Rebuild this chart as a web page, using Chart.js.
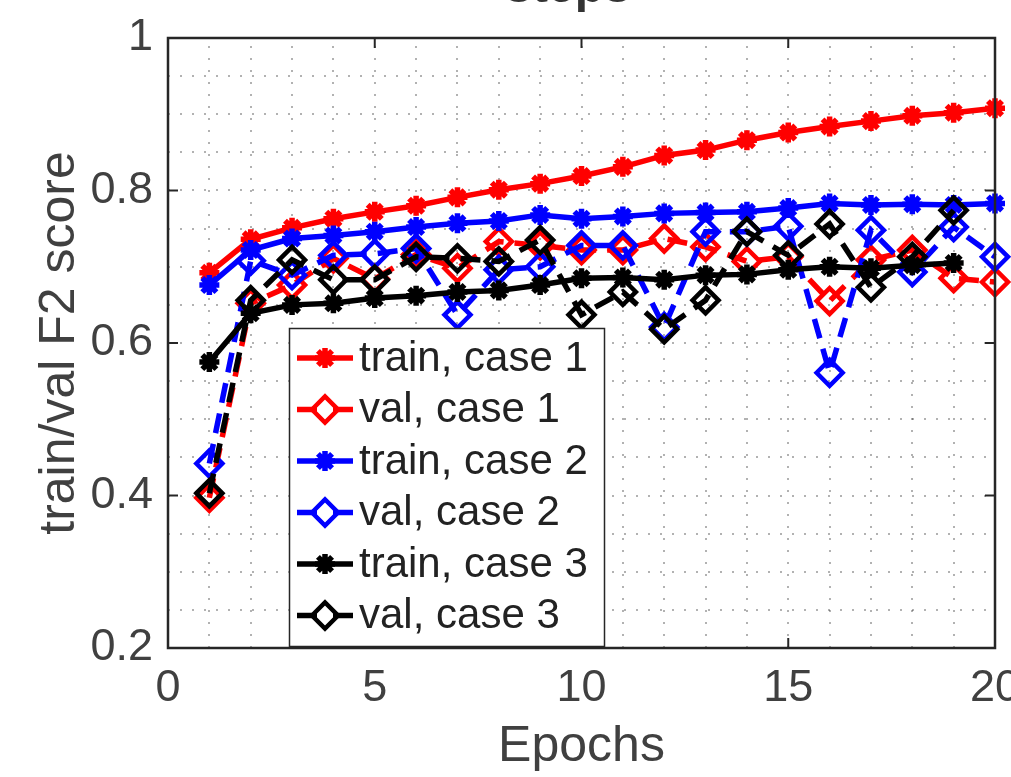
<!DOCTYPE html>
<html>
<head>
<meta charset="utf-8">
<script src="https://cdn.jsdelivr.net/npm/chart.js@4/dist/chart.umd.min.js"></script>
<style>
  html, body { margin: 0; padding: 0; background: #ffffff; overflow: hidden; width: 1011px; height: 777px; }
  #wrap { position: absolute; left: 0; top: -40px; width: 1040px; height: 817px; }
</style>
</head>
<body>
<div id="wrap"><canvas id="c" width="1040" height="817"></canvas></div>
<script>
// ---------- data ----------
const epochs = [1,2,3,4,5,6,7,8,9,10,11,12,13,14,15,16,17,18,19,20];
const train1 = [0.692,0.736,0.751,0.763,0.772,0.780,0.791,0.801,0.809,0.819,0.831,0.846,0.853,0.866,0.876,0.884,0.891,0.898,0.902,0.908];
const val1   = [0.397,0.652,0.676,0.711,0.684,0.716,0.698,0.733,0.728,0.722,0.722,0.737,0.726,0.707,0.713,0.655,0.709,0.722,0.685,0.680];
const train2 = [0.676,0.722,0.737,0.741,0.746,0.752,0.757,0.760,0.768,0.763,0.766,0.770,0.771,0.772,0.777,0.783,0.781,0.782,0.781,0.783];
const val2   = [0.442,0.708,0.689,0.715,0.717,0.724,0.637,0.696,0.700,0.728,0.728,0.621,0.746,0.746,0.753,0.561,0.748,0.693,0.752,0.713];
const train3 = [0.575,0.639,0.650,0.652,0.659,0.662,0.667,0.669,0.676,0.685,0.686,0.683,0.689,0.690,0.696,0.700,0.698,0.702,0.705];
const val3   = [0.403,0.656,0.709,0.683,0.683,0.713,0.711,0.707,0.735,0.637,0.667,0.618,0.656,0.746,0.715,0.756,0.673,0.713,0.774];
const seriesLabels = ['train, case 1','val, case 1','train, case 2','val, case 2','train, case 3','val, case 3'];
const xTicks = [0,5,10,15,20];
const yTicks = [0.2,0.4,0.6,0.8,1];
const titleText = 'steps';
const xTitle = 'Epochs';
const yTitle = 'train/val F2 score';

// ---------- styling ----------
const FONT = '"Liberation Sans", Arial, Helvetica, sans-serif';
const AX = '#262626';
const TXT = '#404040';
const RED = '#ff0000', BLUE = '#0000ff', BLACK = '#000000';
const DASH = [20, 11];
const LW = 5.5;

function pts(vals) { return vals.map((v, i) => ({ x: epochs[i], y: v })); }

function trainDs(label, vals, color, order) {
  return {
    label, data: pts(vals), borderColor: color, backgroundColor: color,
    borderWidth: LW, borderDash: [], pointStyle: 'star', pointRadius: 10,
    pointBorderWidth: 5.5, pointBorderColor: color, pointBackgroundColor: color,
    tension: 0, clip: false, order
  };
}
function valDs(label, vals, color, order) {
  return {
    label, data: pts(vals), borderColor: color, backgroundColor: 'rgba(0,0,0,0)',
    borderWidth: LW, borderDash: DASH, pointStyle: 'rectRot', pointRadius: 13,
    pointBorderWidth: 4.5, pointBorderColor: color, pointBackgroundColor: 'rgba(0,0,0,0)',
    tension: 0, clip: false, order
  };
}

const datasets = [
  trainDs(seriesLabels[0], train1, RED, 5),
  valDs(seriesLabels[1], val1, RED, 4),
  trainDs(seriesLabels[2], train2, BLUE, 3),
  valDs(seriesLabels[3], val2, BLUE, 2),
  trainDs(seriesLabels[4], train3, BLACK, 1),
  valDs(seriesLabels[5], val3, BLACK, 0)
];

const matlabAxes = {
  id: 'matlabAxes',
  beforeDatasetsDraw(chart) {
    const { ctx, chartArea: a, scales: { x, y } } = chart;
    ctx.save();
    ctx.strokeStyle = 'rgba(0,0,0,0.3)';
    ctx.lineWidth = 2;
    ctx.setLineDash([2, 10]);
    for (let v = x.min + 1; v < x.max; v += 1) {
      const px = Math.round(x.getPixelForValue(v));
      ctx.beginPath(); ctx.moveTo(px, a.bottom); ctx.lineTo(px, a.top); ctx.stroke();
    }
    for (let k = 1; k < Math.round((y.max - y.min) / 0.05); k++) {
      const py = Math.round(y.getPixelForValue(y.min + k * 0.05));
      ctx.beginPath(); ctx.moveTo(a.left, py); ctx.lineTo(a.right, py); ctx.stroke();
    }
    ctx.restore();
  },
  afterDatasetsDraw(chart) {
    const { ctx, chartArea: a, scales: { x, y } } = chart;
    ctx.save();
    // box
    ctx.strokeStyle = AX; ctx.lineWidth = 2.5; ctx.setLineDash([]);
    ctx.strokeRect(a.left, a.top, a.right - a.left, a.bottom - a.top);
    // inward ticks
    const TL = 10;
    ctx.lineWidth = 2;
    xTicks.forEach(v => {
      const px = x.getPixelForValue(v);
      ctx.beginPath(); ctx.moveTo(px, a.bottom); ctx.lineTo(px, a.bottom - TL); ctx.stroke();
      ctx.beginPath(); ctx.moveTo(px, a.top); ctx.lineTo(px, a.top + TL); ctx.stroke();
    });
    yTicks.forEach(v => {
      const py = y.getPixelForValue(v);
      ctx.beginPath(); ctx.moveTo(a.left, py); ctx.lineTo(a.left + TL, py); ctx.stroke();
      ctx.beginPath(); ctx.moveTo(a.right, py); ctx.lineTo(a.right - TL, py); ctx.stroke();
    });

    // title (cut off at the top of the page like the reference)
    ctx.fillStyle = '#333333';
    ctx.font = 'bold 48px ' + FONT;
    ctx.textAlign = 'center'; ctx.textBaseline = 'alphabetic';
    ctx.fillText(titleText, 568, 42);

    // legend
    const L = { x: 289, y: 368, w: 315, h: 318, rowY: 398, rowH: 51.5 };
    ctx.fillStyle = '#ffffff';
    ctx.fillRect(L.x, L.y, L.w, L.h);
    ctx.strokeStyle = AX; ctx.lineWidth = 1.5;
    ctx.strokeRect(L.x + 0.5, L.y + 0.5, L.w, L.h);
    chart.data.datasets.forEach((ds, i) => {
      const cy = L.rowY + i * L.rowH;
      const x0 = L.x + 8, x1 = L.x + 64, cx = (x0 + x1) / 2;
      ctx.setLineDash([]);
      ctx.strokeStyle = ds.borderColor; ctx.lineWidth = LW;
      if (ds.pointStyle === 'rectRot') {
        ctx.beginPath(); ctx.moveTo(x0, cy); ctx.lineTo(x0 + 20, cy); ctx.stroke();
        ctx.beginPath(); ctx.moveTo(x1 - 20, cy); ctx.lineTo(x1, cy); ctx.stroke();
      } else {
        ctx.beginPath(); ctx.moveTo(x0, cy); ctx.lineTo(x1, cy); ctx.stroke();
      }
      ctx.fillStyle = ds.pointBackgroundColor;
      ctx.strokeStyle = ds.pointBorderColor;
      ctx.lineWidth = ds.pointBorderWidth;
      Chart.helpers.drawPoint(ctx, {
        pointStyle: ds.pointStyle, radius: ds.pointRadius, rotation: 0,
        borderWidth: ds.pointBorderWidth
      }, cx, cy);
      ctx.fillStyle = '#222222';
      ctx.font = '42px ' + FONT;
      ctx.textAlign = 'left'; ctx.textBaseline = 'middle';
      ctx.fillText(ds.label, L.x + 70, cy + 1);
    });
    ctx.restore();
  }
};

new Chart(document.getElementById('c'), {
  type: 'line',
  data: { datasets },
  options: {
    responsive: false,
    animation: false,
    devicePixelRatio: 1,
    layout: { padding: { top: 78, right: 45, left: 0, bottom: 0 } },
    plugins: { legend: { display: false }, tooltip: { enabled: false }, title: { display: false } },
    scales: {
      x: {
        type: 'linear', min: 0, max: 20,
        afterBuildTicks: s => { s.ticks = xTicks.map(v => ({ value: v })); },
        ticks: { font: { size: 45, family: FONT }, color: TXT, padding: 14, maxRotation: 0, autoSkip: false },
        grid: { display: false, drawTicks: false },
        border: { display: false },
        title: { display: true, text: xTitle, font: { size: 50, family: FONT }, color: TXT, padding: 0 },
        afterFit: s => { s.height = 129; }
      },
      y: {
        type: 'linear', min: 0.2, max: 1,
        afterBuildTicks: s => { s.ticks = yTicks.map(v => ({ value: v })); },
        ticks: { font: { size: 45, family: FONT }, color: TXT, padding: 15,
                 callback: v => String(Math.round(v * 10) / 10) },
        grid: { display: false, drawTicks: false },
        border: { display: false },
        title: { display: true, text: yTitle, font: { size: 50, family: FONT }, color: TXT, padding: { top: 30, bottom: 0 } },
        afterFit: s => { s.width = 168; }
      }
    }
  },
  plugins: [matlabAxes]
});
</script>
</body>
</html>
